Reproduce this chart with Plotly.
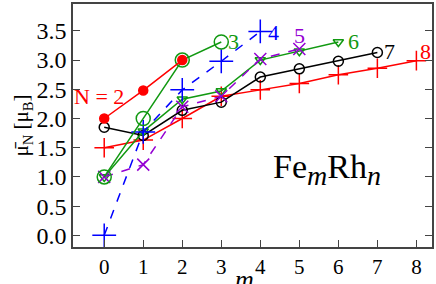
import plotly.graph_objects as go

m2 = [0, 1, 2]
v2 = [2.0, 2.48, 3.0]
m3 = [0, 1, 2, 3]
v3 = [1.0, 2.0, 3.0, 3.31]
m4 = [0, 1, 2, 3, 4]
v4 = [0.0, 1.77, 2.49, 2.98, 3.49]
m5 = [0, 1, 2, 3, 4, 5]
v5 = [1.0, 1.21, 2.2, 2.38, 3.02, 3.19]
m6 = [0, 1, 2, 3, 4, 5, 6]
v6 = [1.0, 1.78, 2.33, 2.47, 3.0, 3.15, 3.31]
m7 = [0, 1, 2, 3, 4, 5, 6, 7]
v7 = [1.85, 1.71, 2.14, 2.28, 2.71, 2.85, 2.98, 3.13]
m8 = [0, 1, 2, 3, 4, 5, 6, 7, 8]
v8 = [1.5, 1.63, 2.0, 2.38, 2.49, 2.6, 2.75, 2.86, 2.99]

RED = "#ff0000"
GREEN = "#119911"
BLUE = "#0000ff"
PURPLE = "#9400d3"
BLACK = "#000000"

fig = go.Figure()

def add(x, y, color, symbol, size, dash="solid"):
    fig.add_trace(go.Scatter(
        x=x, y=y, mode="lines+markers",
        line=dict(color=color, width=1.5, dash=dash),
        marker=dict(symbol=symbol, size=size, color=color,
                    line=dict(color=color, width=1.5)),
        showlegend=False))

add(m8, v8, RED, "cross-thin", 14)
add(m7, v7, BLACK, "circle-open", 10)
add(m6, v6, GREEN, "triangle-down-open", 9)
add(m5, v5, PURPLE, "x-thin", 12, dash="dash")
add(m4, v4, BLUE, "cross-thin", 17, dash="dash")
add(m3, v3, GREEN, "circle-open", 14)
add(m2, v2, RED, "circle", 9)

FONT = "Liberation Serif"
labels = [
    ("N = 2", -0.13, 2.38, RED, "center"),
    ("3", 3.12, 3.31, GREEN, "left"),
    ("4", 4.14, 3.48, BLUE, "left"),
    ("5", 5.0, 3.42, PURPLE, "center"),
    ("6", 6.2, 3.31, GREEN, "left"),
    ("7", 7.12, 3.14, BLACK, "left"),
    ("8", 8.05, 3.14, RED, "left"),
]
for t, x, y, c, anc in labels:
    fig.add_annotation(x=x, y=y, text=t, showarrow=False, xanchor=anc,
                       yanchor="middle", font=dict(family=FONT, size=22, color=c))

fig.add_annotation(
    x=5.71, y=1.12,
    text="Fe<sub><span style='font-size:28px'><i>m</i></span></sub>Rh<sub><span style='font-size:28px'><i>n</i></span></sub>",
    showarrow=False, font=dict(family=FONT, size=34, color="black"))

fig.add_annotation(x=3.6, y=-0.2, xref="x", yref="paper", text="<i>m</i>",
                   showarrow=False, yanchor="bottom",
                   font=dict(family=FONT, size=26, color="black"))

fig.update_layout(
    width=436, height=284,
    margin=dict(l=73, r=2, t=2, b=37),
    paper_bgcolor="white", plot_bgcolor="white",
    font=dict(family=FONT, size=23, color="black"),
)
fig.update_xaxes(
    range=[-0.8, 8.4], tickvals=list(range(9)),
    ticks="inside", ticklen=7, tickcolor="#444", linecolor="#444", linewidth=1.5,
    mirror=True, showgrid=False, zeroline=False,
    tickfont=dict(size=21),
)
fig.update_yaxes(
    range=[-0.2, 3.96], tickvals=[0, 0.5, 1, 1.5, 2, 2.5, 3, 3.5],
    ticktext=["0.0", "0.5", "1.0", "1.5", "2.0", "2.5", "3.0", "3.5"],
    ticks="inside", ticklen=7, tickcolor="#444", linecolor="#444", linewidth=1.5,
    mirror="ticks", showgrid=False, zeroline=False,
    tickfont=dict(size=24),
    title=dict(text="\u03bc\u0304<sub>N</sub> [\u03bc<sub>B</sub>]", standoff=2, font=dict(size=21)),
)
fig.write_html("out.html", config={"displayModeBar": False},
               post_script="document.body.style.margin='0';document.body.style.padding='0';")
